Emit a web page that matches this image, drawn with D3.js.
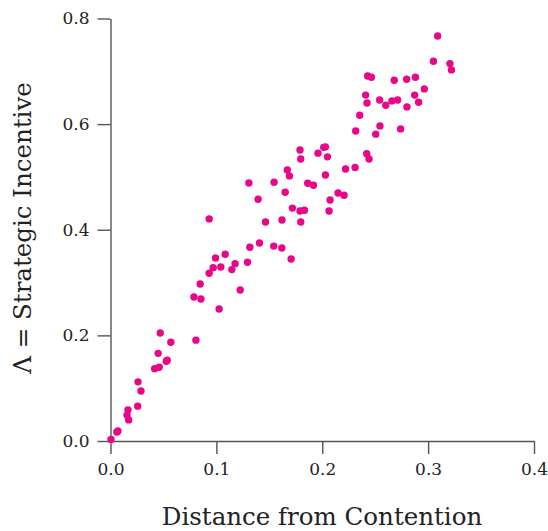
<!DOCTYPE html>
<html>
<head>
<meta charset="utf-8">
<script src="https://cdn.jsdelivr.net/npm/d3@7"></script>
<style>
  html, body { margin: 0; padding: 0; background: #fff; }
  svg { display: block; }
  .axis path, .axis line { stroke: #555; stroke-width: 1.4; }
  .axis text { font-family: "DejaVu Serif", serif; font-size: 17px; fill: #222; }
  .title { font-family: "DejaVu Serif", serif; font-size: 24.5px; fill: #222; }
</style>
</head>
<body>
<script>
// Data
const distance = [
  0.0005, 0.006, 0.007, 0.0165, 0.0156, 0.0172, 0.0257, 0.0288, 0.026, 0.0417,
  0.046, 0.0536, 0.0527, 0.045, 0.047, 0.057, 0.0807, 0.0788, 0.0854, 0.0847,
  0.1026, 0.1225, 0.0932, 0.1146, 0.097, 0.1042, 0.1294, 0.1177, 0.0992, 0.1083,
  0.1706, 0.1618, 0.1542, 0.1407, 0.1316, 0.0932, 0.1464, 0.162, 0.1797, 0.179,
  0.1832, 0.1718, 0.1394, 0.165, 0.1307, 0.1545, 0.1863, 0.1917, 0.169, 0.167,
  0.179, 0.1797, 0.196, 0.2014, 0.203, 0.2049, 0.203, 0.2149, 0.2206, 0.2074,
  0.2064, 0.222, 0.231, 0.242, 0.2442, 0.2316, 0.2505, 0.2545, 0.274, 0.2354,
  0.241, 0.2423, 0.2542, 0.26, 0.2658, 0.2712, 0.28, 0.291, 0.2873, 0.2964,
  0.2429, 0.2464, 0.268, 0.2797, 0.288, 0.305, 0.3206, 0.322, 0.309
];
const incentive = [
  0.003, 0.017, 0.019, 0.0587, 0.049, 0.040, 0.066, 0.0947, 0.112, 0.137,
  0.1396, 0.153, 0.151, 0.166, 0.2045, 0.187, 0.191, 0.2727, 0.269, 0.2973,
  0.25, 0.286, 0.3176, 0.3245, 0.328, 0.3295, 0.3384, 0.3358, 0.3466, 0.3535,
  0.3447, 0.3655, 0.369, 0.375, 0.367, 0.4205, 0.4148, 0.4186, 0.4148, 0.4356,
  0.437, 0.441, 0.4577, 0.471, 0.4886, 0.49, 0.488, 0.4843, 0.502, 0.513,
  0.551, 0.534, 0.545, 0.556, 0.557, 0.538, 0.5038, 0.4697, 0.4653, 0.4564,
  0.4356, 0.515, 0.518, 0.544, 0.534, 0.587, 0.581, 0.5966, 0.591, 0.6169,
  0.655, 0.640, 0.6458, 0.6358, 0.644, 0.6458, 0.6326, 0.6415, 0.655, 0.6667,
  0.691, 0.6888, 0.683, 0.685, 0.6888, 0.719, 0.7146, 0.7027, 0.767
];
const xTicks = [0.0, 0.1, 0.2, 0.3, 0.4];
const yTicks = [0.0, 0.2, 0.4, 0.6, 0.8];
const xLabel = "Distance from Contention";
const yLabel = "\u039B = Strategic Incentive";

const W = 548, H = 531;
const svg = d3.select("body").append("svg").attr("width", W).attr("height", H);

const x = d3.scaleLinear().domain([0, 0.4]).range([110.5, 534]);
const y = d3.scaleLinear().domain([0, 0.8]).range([441, 18.5]);

svg.append("g").attr("class", "axis")
  .attr("transform", `translate(0,${y(0)})`)
  .call(d3.axisBottom(x).tickValues(xTicks).tickFormat(d3.format(".1f"))
    .tickSize(13).tickSizeOuter(0).tickPadding(9));

svg.append("g").attr("class", "axis")
  .attr("transform", `translate(${x(0)},0)`)
  .call(d3.axisLeft(y).tickValues(yTicks).tickFormat(d3.format(".1f"))
    .tickSize(13).tickSizeOuter(0).tickPadding(8));

svg.append("g").selectAll("circle")
  .data(distance.map((d, i) => [d, incentive[i]]))
  .join("circle")
  .attr("cx", d => x(d[0]))
  .attr("cy", d => y(d[1]))
  .attr("r", 3.7)
  .attr("fill", "#ea0689");

svg.append("text").attr("class", "title")
  .attr("x", 322).attr("y", 525)
  .attr("text-anchor", "middle")
  .text(xLabel);

svg.append("text").attr("class", "title")
  .attr("transform", `translate(31,228) rotate(-90)`)
  .attr("text-anchor", "middle")
  .text(yLabel);
</script>
</body>
</html>
